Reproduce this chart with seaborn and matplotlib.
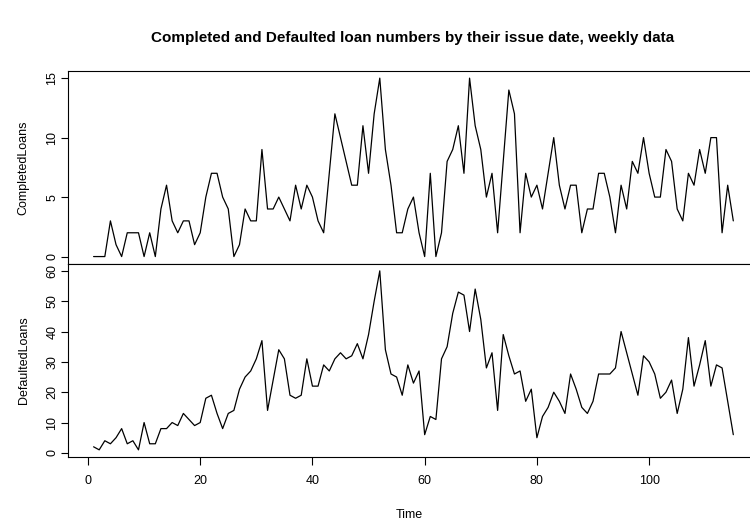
import numpy as np
import pandas as pd
import matplotlib
matplotlib.use("Agg")
import matplotlib.pyplot as plt
import seaborn as sns

# ---- data ----
time = list(range(1, 116))
completed = [0, 0, 0, 3, 1, 0, 2, 2, 2, 0,
             2, 0, 4, 6, 3, 2, 3, 3, 1, 2,
             5, 7, 7, 5, 4, 0, 1, 4, 3, 3,
             9, 4, 4, 5, 4, 3, 6, 4, 6, 5,
             3, 2, 7, 12, 10, 8, 6, 6, 11, 7,
             12, 15, 9, 6, 2, 2, 4, 5, 2, 0,
             7, 0, 2, 8, 9, 11, 7, 15, 11, 9,
             5, 7, 2, 8, 14, 12, 2, 7, 5, 6,
             4, 7, 10, 6, 4, 6, 6, 2, 4, 4,
             7, 7, 5, 2, 6, 4, 8, 7, 10, 7,
             5, 5, 9, 8, 4, 3, 7, 6, 9, 7,
             10, 10, 2, 6, 3]
defaulted = [2, 1, 4, 3, 5, 8, 3, 4, 1, 10,
             3, 3, 8, 8, 10, 9, 13, 11, 9, 10,
             18, 19, 13, 8, 13, 14, 21, 25, 27, 31,
             37, 14, 24, 34, 31, 19, 18, 19, 31, 22,
             22, 29, 27, 31, 33, 31, 32, 36, 31, 39,
             50, 60, 34, 26, 25, 19, 29, 23, 27, 6,
             12, 11, 31, 35, 46, 53, 52, 40, 54, 44,
             28, 33, 14, 39, 32, 26, 27, 17, 21, 5,
             12, 15, 20, 17, 13, 26, 21, 15, 13, 17,
             26, 26, 26, 28, 40, 33, 26, 19, 32, 30,
             26, 18, 20, 24, 13, 21, 38, 22, 29, 37,
             22, 29, 28, 17, 6]
completed_ticks = [0, 5, 10, 15]
defaulted_ticks = [0, 10, 20, 30, 40, 50, 60]
time_ticks = [0, 20, 40, 60, 80, 100]
title = "Completed and Defaulted loan numbers by their issue date, weekly data"
ylabels = ["CompletedLoans", "DefaultedLoans"]
xlabel = "Time"

df = pd.DataFrame({"Time": time, "CompletedLoans": completed,
                   "DefaultedLoans": defaulted})

sns.set_theme(style="ticks")
plt.rcParams['font.family'] = ['Liberation Sans', 'DejaVu Sans']
plt.rcParams['axes.edgecolor'] = 'black'

W, H = 750, 520
fig = plt.figure(figsize=(W / 100, H / 100), dpi=100)
fig.patch.set_facecolor("white")

left_px, right_px = 68, 750
top_px, mid_px, bot_px = 71, 263.7, 457
ax1 = fig.add_axes([left_px / W, 1 - mid_px / H, (right_px - left_px) / W,
                    (mid_px - top_px) / H])
ax2 = fig.add_axes([left_px / W, 1 - bot_px / H, (right_px - left_px) / W,
                    (bot_px - mid_px) / H])

t_lo = 1 - 0.04 * 114
t_hi = 1 + (right_px - 93.3) / 5.614

for ax, col, ticks in [(ax1, ylabels[0], completed_ticks),
                       (ax2, ylabels[1], defaulted_ticks)]:
    sns.lineplot(data=df, x="Time", y=col, ax=ax, color="black",
                 linewidth=0.9, estimator=None)
    vals = df[col]
    rng = vals.max() - vals.min()
    ax.set_ylim(vals.min() - 0.04 * rng, vals.max() + 0.04 * rng)
    ax.set_xlim(t_lo, t_hi)
    ax.set_yticks(ticks)
    ax.set_yticklabels([str(v) for v in ticks])
    ax.tick_params(axis='y', labelrotation=90, length=5, width=0.8,
                   pad=2, labelsize=9, colors='black')
    for lab in ax.get_yticklabels():
        lab.set_va('center')
    ax.set_ylabel(col, fontsize=9, labelpad=12, color='black')
    ax.spines['right'].set_visible(False)
    for s in ['left', 'top', 'bottom']:
        ax.spines[s].set_linewidth(0.8)
        ax.spines[s].set_color('black')
    ax.set_facecolor("white")

ax1.set_xlabel("")
ax1.tick_params(axis='x', bottom=False, labelbottom=False)
ax2.set_xticks(time_ticks)
ax2.set_xticklabels([str(v) for v in time_ticks])
ax2.tick_params(axis='x', length=6, width=0.8, pad=7, labelsize=9,
                colors='black')
ax2.set_xlabel(xlabel, fontsize=9, labelpad=16, color='black')
ax2.spines['top'].set_zorder(5)

fig.text(413 / W, 1 - 38 / H, title, ha='center', va='center',
         fontsize=11, fontweight='bold', color='black')

fig.savefig("out.png", dpi=100, facecolor="white")
